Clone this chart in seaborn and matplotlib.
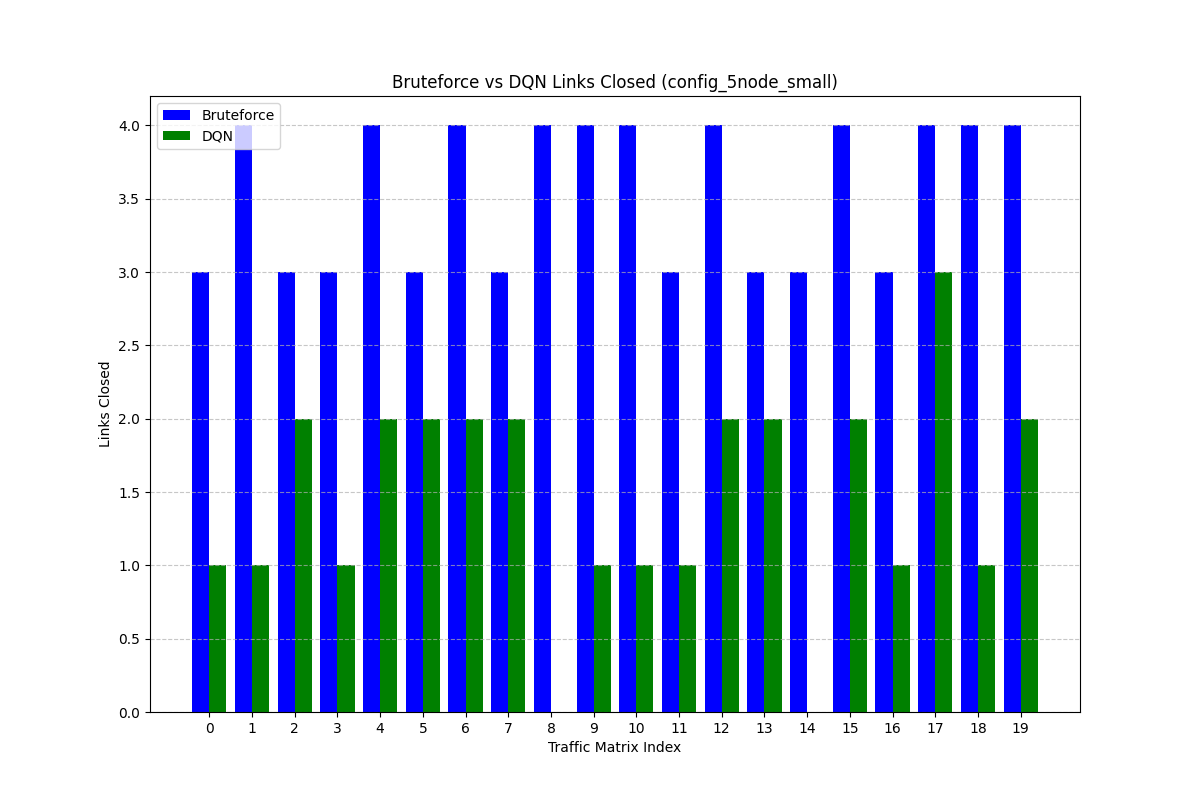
import pandas as pd
import matplotlib
matplotlib.use("Agg")
import matplotlib.pyplot as plt
import seaborn as sns

indices = list(range(20))
bruteforce = [3, 4, 3, 3, 4, 3, 4, 3, 4, 4, 4, 3, 4, 3, 3, 4, 3, 4, 4, 4]
dqn = [1, 1, 2, 1, 2, 2, 2, 2, 0, 1, 1, 1, 2, 2, 0, 2, 1, 3, 1, 2]

df = pd.DataFrame({
    "idx": indices * 2,
    "links": bruteforce + dqn,
    "method": ["Bruteforce"] * 20 + ["DQN"] * 20,
})

fig, ax = plt.subplots(figsize=(12, 8), dpi=100)
sns.barplot(data=df, x="idx", y="links", hue="method", palette=["blue", "green"],
            width=0.8, gap=0, saturation=1, errorbar=None, ax=ax)
for p in ax.patches:
    p.set_edgecolor("none")
    p.set_linewidth(0)

ax.set_xlim(-1.39, 20.39)
ax.set_title("Bruteforce vs DQN Links Closed (config_5node_small)")
ax.set_xlabel("Traffic Matrix Index")
ax.set_ylabel("Links Closed")
ax.grid(axis="y", linestyle="--", alpha=0.7)
ax.legend(loc="upper left", title=None)

plt.savefig("out.png", dpi=100)
plt.close()
